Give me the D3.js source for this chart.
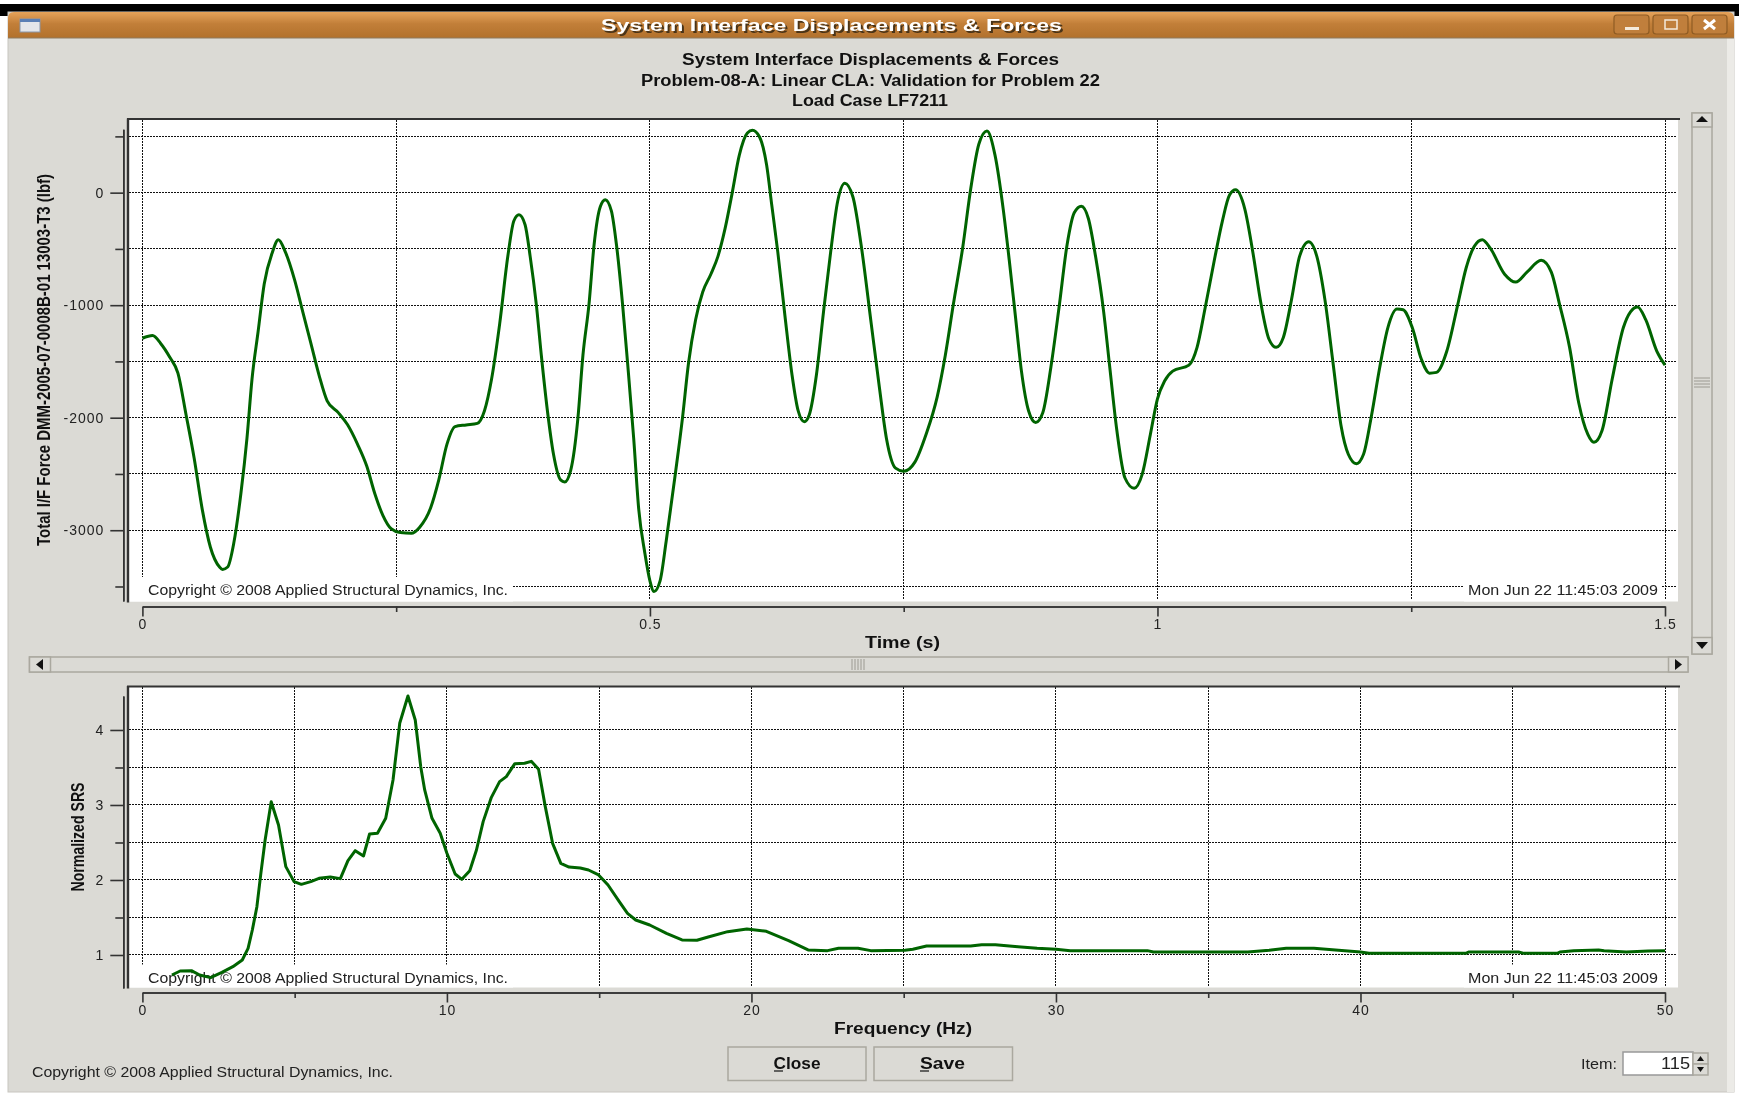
<!DOCTYPE html>
<html>
<head>
<meta charset="utf-8">
<title>System Interface Displacements & Forces</title>
<script src="https://cdn.jsdelivr.net/npm/d3@7"></script>
<style>
  html, body { margin: 0; background: #fff; overflow: hidden; }
  svg { display: block; filter: blur(0.35px); }
  text { font-family: "Liberation Sans", Arial, sans-serif; fill: #111; }
  .tick text { font-size: 14px; letter-spacing: 1px; fill: #222; }
  .axis path, .axis line { stroke: #333; stroke-width: 1.6; fill: none; }
  .grid line { stroke: #111; stroke-width: 1; stroke-dasharray: 2 1; shape-rendering: crispEdges; }
  .curve { fill: none; stroke: #006400; stroke-width: 3; stroke-linejoin: round; }
</style>
</head>
<body>
<svg id="chart" width="1739" height="1093"></svg>
<script>
// Time history
const timeS = [0, .010, .018, .027, .035, .043, .051, .059, .067, .076, .079, .084, .090, .097, .103, .108, .114, .120, .128, .134,
  .141, .150, .158, .166, .174, .182, .193, .202, .212, .221, .229, .237, .245, .254, .265, .273, .284, .292, .300, .308,
  .319, .330, .337, .344, .352, .360, .366, .371, .377, .382, .388, .393, .399, .405, .412, .416, .422, .429, .434, .440,
  .445, .451, .456, .462, .467, .473, .478, .484, .489, .495, .500, .504, .510, .516, .525, .532, .538, .545, .552, .560,
  .567, .574, .581, .588, .596, .601, .608, .615, .620, .626, .633, .640, .646, .652, .657, .664, .671, .678, .685, .692,
  .700, .708, .718, .726, .733, .742, .750, .761, .772, .783, .791, .799, .808, .816, .824, .832, .840, .848, .854, .860,
  .866, .873, .880, .887, .895, .903, .911, .918, .925, .932, .939, .947, .953, .960, .968, .977, .985, .993, 1.0, 1.007,
  1.015, 1.031, 1.039, 1.047, 1.056, 1.064, 1.071, 1.077, 1.086, 1.094, 1.102, 1.110, 1.117, 1.124, 1.132, 1.140, 1.149, 1.157, 1.165, 1.173,
  1.181, 1.188, 1.196, 1.203, 1.211, 1.219, 1.227, 1.236, 1.242, 1.251, 1.260, 1.268, 1.275, 1.285, 1.296, 1.304, 1.312, 1.320, 1.328, 1.342,
  1.353, 1.364, 1.378, 1.388, 1.396, 1.406, 1.415, 1.424, 1.430, 1.438, 1.448, 1.459, 1.466, 1.473, 1.481, 1.492, 1.500];
const forceLbf = [-1294, -1270, -1340, -1463, -1604, -1973, -2360, -2817, -3151, -3327, -3348, -3327, -3116, -2676, -2184, -1656, -1234, -812, -531, -418,
  -531, -777, -1059, -1340, -1621, -1850, -1955, -2061, -2237, -2430, -2676, -2870, -2986, -3021, -3028, -2975, -2800, -2553, -2237, -2079,
  -2064, -2050, -1938, -1656, -1164, -566, -250, -197, -285, -566, -988, -1445, -1938, -2325, -2553, -2571, -2465, -2008, -1445, -988,
  -461, -127, -63, -162, -461, -988, -1516, -2184, -2817, -3204, -3450, -3545, -3450, -3098, -2501, -2008, -1516, -1129, -883, -725,
  -566, -320, -4, 331, 530, 555, 495, 243, -109, -531, -1094, -1621, -1938, -2036, -1973, -1621, -1059, -531, -74, 84,
  -39, -461, -1164, -1727, -2184, -2448, -2476, -2395, -2149, -1815, -1445, -988, -496, 32, 430, 548, 331, -144, -601, -1094,
  -1586, -1938, -2043, -1955, -1551, -1023, -461, -179, -120, -232, -566, -1059, -1551, -2114, -2536, -2627, -2501, -2149, -1832, -1674,
  -1586, -1533, -1375, -1023, -601, -250, -21, 25, -144, -531, -988, -1305, -1375, -1287, -953, -566, -436, -566, -953, -1516,
  -2079, -2325, -2409, -2325, -1973, -1551, -1199, -1034, -1041, -1199, -1481, -1604, -1597, -1410, -988, -672, -478, -418, -496, -725,
  -795, -707, -601, -707, -988, -1375, -1867, -2149, -2219, -2114, -1656, -1199, -1059, -1016, -1129, -1410, -1533];

// Shock response spectrum
const freqHz = [.97, 1.24, 1.61, 1.88, 2.24, 2.61, 2.97, 3.28, 3.47, 3.61, 3.76, 3.89, 4.03, 4.23, 4.47, 4.71, 4.98, 5.22, 5.53, 5.80,
  6.17, 6.50, 6.75, 6.99, 7.26, 7.46, 7.72, 7.99, 8.23, 8.45, 8.72, 8.96, 9.14, 9.27, 9.51, 9.78, 10.0, 10.27, 10.49, 10.75,
  10.97, 11.19, 11.46, 11.73, 11.95, 12.23, 12.55, 12.77, 13.01, 13.23, 13.47, 13.74, 14.01, 14.38, 14.65, 14.98, 15.29, 15.66, 15.93, 16.2,
  16.66, 17.21, 17.72, 18.21, 18.58, 19.22, 19.85, 20.49, 21.22, 21.86, 22.5, 22.86, 23.5, 23.92, 25.04, 25.3, 25.75, 27.2, 27.56, 28.01,
  28.75, 29.38, 30, 30.47, 33.0, 33.2, 36.3, 37.0, 37.56, 38.47, 39.28, 40.0, 40.28, 43.46, 43.55, 45.19, 45.37, 46.46, 46.55, 47.0,
  47.82, 48.0, 48.73, 49.45, 50];
const srs = [.733, .787, .791, .733, .698, .769, .844, .933, 1.089, 1.333, 1.644, 2.089, 2.533, 3.044, 2.733, 2.178, 1.978, 1.942, 1.978, 2.022,
  2.04, 2.018, 2.258, 2.391, 2.32, 2.613, 2.622, 2.822, 3.333, 4.089, 4.453, 4.133, 3.511, 3.2, 2.822, 2.622, 2.356, 2.08, 2.009, 2.124,
  2.4, 2.778, 3.102, 3.311, 3.378, 3.551, 3.556, 3.582, 3.476, 2.978, 2.489, 2.222, 2.173, 2.16, 2.133, 2.067, 1.933, 1.711, 1.556, 1.467,
  1.4, 1.289, 1.2, 1.196, 1.24, 1.311, 1.347, 1.316, 1.191, 1.067, 1.058, 1.089, 1.089, 1.058, 1.062, 1.076, 1.12, 1.12, 1.138, 1.138,
  1.111, 1.089, 1.076, 1.058, 1.058, 1.04, 1.04, 1.062, 1.089, 1.089, 1.062, 1.04, 1.022, 1.022, 1.04, 1.04, 1.022, 1.022, 1.04, 1.058,
  1.067, 1.058, 1.04, 1.053, 1.058];

// Ticks
const timeMajor = [0, 0.5, 1, 1.5];
const timeMinor = [0.25, 0.75, 1.25];
const forceMajor = [0, -1000, -2000, -3000];
const forceMinor = [500, -500, -1500, -2500, -3500];
const freqMajor = [0, 10, 20, 30, 40, 50];
const freqMinor = [5, 15, 25, 35, 45];
const srsMajor = [1, 2, 3, 4];
const srsMinor = [1.5, 2.5, 3.5];

// Text
const windowTitle = "System Interface Displacements & Forces";
const heading = ["System Interface Displacements & Forces", "Problem-08-A: Linear CLA: Validation for Problem 22", "Load Case LF7211"];
const copyright = "Copyright \u00a9 2008 Applied Structural Dynamics, Inc.";
const stamp = "Mon Jun 22 11:45:03 2009";

const svg = d3.select("#chart");
const BG = "#dbdad5";

// Text squeezed to the width it has in the screenshot
function label(parent, str, x, y, width, size, opts = {}) {
  const t = parent.append("text")
    .attr("x", x).attr("y", y)
    .attr("text-anchor", opts.anchor || "middle")
    .attr("dominant-baseline", "central")
    .attr("font-size", size)
    .attr("font-weight", opts.bold ? "bold" : "normal")
    .attr("textLength", width)
    .attr("lengthAdjust", "spacingAndGlyphs")
    .text(str);
  if (opts.fill) t.style("fill", opts.fill);
  if (opts.rotate) t.attr("transform", `rotate(-90,${x},${y})`);
  return t;
}

function bevel(x, y, w, h, fill = BG) {
  svg.append("rect").attr("x", x).attr("y", y).attr("width", w).attr("height", h)
    .attr("fill", fill).attr("stroke", "#aaa89f").attr("stroke-width", 1.5);
}

// Window frame
const defs = svg.append("defs");
const grad = defs.append("linearGradient").attr("id", "titlebar").attr("x1", 0).attr("x2", 0).attr("y1", 0).attr("y2", 1);
grad.append("stop").attr("offset", 0).attr("stop-color", "#e6a35a");
grad.append("stop").attr("offset", 0.45).attr("stop-color", "#c27f39");
grad.append("stop").attr("offset", 1).attr("stop-color", "#b2712c");

svg.append("rect").attr("x", 0).attr("y", 4).attr("width", 1739).attr("height", 12).attr("fill", "#000");
svg.append("rect").attr("x", 8).attr("y", 12).attr("width", 1726).attr("height", 1080).attr("fill", BG).attr("stroke", "#c8c6c0");
svg.append("rect").attr("x", 1727).attr("y", 38).attr("width", 7).attr("height", 1054).attr("fill", "#ecebe7");
svg.append("path").attr("fill", "url(#titlebar)")
  .attr("d", "M8,38V18Q8,12,14,12H1728Q1734,12,1734,18V38Z");
svg.append("line").attr("x1", 8).attr("x2", 1734).attr("y1", 38).attr("y2", 38).attr("stroke", "#8f7a5f");

svg.append("rect").attr("x", 20).attr("y", 19).attr("width", 20).attr("height", 13).attr("fill", "#e4e6ea").attr("stroke", "#8a96a8");
svg.append("rect").attr("x", 20).attr("y", 19).attr("width", 20).attr("height", 3).attr("fill", "#5a7fb5");

label(svg, windowTitle, 832.5, 26, 461, 17, { bold: true, fill: "#4a3418" }).attr("transform", "translate(1,1)");
label(svg, windowTitle, 831.5, 25, 461, 17, { bold: true, fill: "#fff" });

[[1614, 35], [1653, 35], [1692, 35]].forEach(([x, w]) => {
  svg.append("rect").attr("x", x).attr("y", 15).attr("width", w).attr("height", 19).attr("rx", 3)
    .attr("fill", "#c07f3c").attr("stroke", "#8f5c24").attr("stroke-width", 1.2);
});
svg.append("rect").attr("x", 1625).attr("y", 27).attr("width", 14).attr("height", 3).attr("fill", "#f4eadc");
svg.append("rect").attr("x", 1665).attr("y", 20).attr("width", 12).attr("height", 9).attr("fill", "none").attr("stroke", "#f4eadc").attr("stroke-width", 1.5);
svg.append("path").attr("d", "M1704,20L1715,29M1715,20L1704,29").attr("stroke", "#fff").attr("stroke-width", 3);

label(svg, heading[0], 870.5, 59.5, 377, 16, { bold: true });
label(svg, heading[1], 870.5, 80, 459, 16, { bold: true });
label(svg, heading[2], 870, 100.5, 156, 16, { bold: true });

// One plot panel with grid, axes and its curve
function drawPlot(cfg) {
  const x = d3.scaleLinear().domain(cfg.xDomain).range([142.4, 1665]);
  const y = d3.scaleLinear().domain(cfg.yDomain).range([cfg.axisBottom, cfg.axisTop]);
  const g = svg.append("g");

  g.append("rect").attr("x", 128).attr("y", cfg.top).attr("width", 1550).attr("height", cfg.bottom - cfg.top).attr("fill", "#fff");

  const grid = g.append("g").attr("class", "grid");
  grid.selectAll(".h").data(cfg.yMajor.concat(cfg.yMinor)).enter().append("line")
    .attr("x1", 129).attr("x2", 1676).attr("y1", (d) => y(d)).attr("y2", (d) => y(d));
  grid.selectAll(".v").data(cfg.xMajor.concat(cfg.xMinor)).enter().append("line")
    .attr("x1", (d) => x(d)).attr("x2", (d) => x(d)).attr("y1", cfg.top).attr("y2", cfg.bottom - 2);

  // Stamps knock the grid out behind them
  const stampTop = cfg.stampY - 13;
  g.append("rect").attr("x", 129).attr("y", stampTop).attr("width", 384).attr("height", cfg.bottom - stampTop).attr("fill", "#fff");
  g.append("rect").attr("x", 1464).attr("y", stampTop).attr("width", 197).attr("height", cfg.bottom - stampTop).attr("fill", "#fff");
  label(g, copyright, 148, cfg.stampY, 360, 14.5, { anchor: "start", fill: "#222" });
  label(g, stamp, 1468, cfg.stampY, 190, 14.5, { anchor: "start", fill: "#222" });

  g.append("path").attr("class", "curve")
    .attr("d", d3.line().x((d, i) => x(cfg.xs[i])).y((d) => y(d)).curve(cfg.curve)(cfg.ys));

  g.append("line").attr("x1", 128).attr("x2", 128).attr("y1", cfg.top - 1).attr("y2", cfg.bottom + 1).attr("stroke", "#333").attr("stroke-width", 2.4);
  g.append("line").attr("x1", 127).attr("x2", 1680).attr("y1", cfg.top - 0.5).attr("y2", cfg.top - 0.5).attr("stroke", "#333").attr("stroke-width", 2);

  // Axes: labelled major ticks, then short minor ticks
  const xMaj = d3.axisBottom(x).tickValues(cfg.xMajor).tickSize(cfg.xTick).tickSizeOuter(0).tickFormat((d) => String(d));
  const xMin = d3.axisBottom(x).tickValues(cfg.xMinor).tickSize(cfg.xTick - 4.5).tickSizeOuter(0).tickFormat("");
  const yMaj = d3.axisLeft(y).tickValues(cfg.yMajor).tickSize(13).tickSizeOuter(0).tickFormat((d) => String(d));
  const yMin = d3.axisLeft(y).tickValues(cfg.yMinor).tickSize(8).tickSizeOuter(0).tickFormat("");

  const xa = g.append("g").attr("class", "axis").attr("transform", `translate(0,${cfg.xAxisY})`);
  xa.call(xMaj); xa.append("g").call(xMin);
  xa.selectAll("text").attr("y", cfg.xLabelDy).attr("dy", "0.32em");
  const ya = g.append("g").attr("class", "axis").attr("transform", "translate(123.3,0)");
  ya.call(yMaj); ya.append("g").call(yMin);
  ya.selectAll("text").attr("x", -19);
  svg.selectAll(".axis").attr("fill", "none");

  label(g, cfg.xTitle, cfg.xTitleX, cfg.xTitleY, cfg.xTitleW, 16, { bold: true });
  label(g, cfg.yTitle, cfg.yTitleX, cfg.yTitleY, cfg.yTitleW, 18, { bold: true, rotate: true });
}

drawPlot({
  xs: timeS, ys: forceLbf, curve: d3.curveMonotoneX,
  xDomain: [0, 1.5], yDomain: [-3629, 563],
  xMajor: timeMajor, xMinor: timeMinor, yMajor: forceMajor, yMinor: forceMinor,
  top: 119.5, bottom: 601.5, axisTop: 129.3, axisBottom: 601,
  xAxisY: 606.5, xTick: 10, xLabelDy: 18.5, stampY: 590,
  xTitle: "Time (s)", xTitleX: 902.5, xTitleY: 642.5, xTitleW: 75,
  yTitle: "Total I/F Force DMM-2005-07-0008B-01 13003-T3 (lbf)", yTitleX: 44, yTitleY: 360, yTitleW: 372
});

drawPlot({
  xs: freqHz, ys: srs, curve: d3.curveLinear,
  xDomain: [0, 50], yDomain: [0.56, 4.453],
  xMajor: freqMajor, xMinor: freqMinor, yMajor: srsMajor, yMinor: srsMinor,
  top: 687, bottom: 987.5, axisTop: 696, axisBottom: 988,
  xAxisY: 992.5, xTick: 10, xLabelDy: 18.5, stampY: 977.5,
  xTitle: "Frequency (Hz)", xTitleX: 903, xTitleY: 1028.5, xTitleW: 138,
  yTitle: "Normalized SRS", yTitleX: 77.5, yTitleY: 837, yTitleW: 109
});

// Scrollbars
bevel(1692, 113, 20, 541);
bevel(1692, 113, 20, 14);
bevel(1692, 637.5, 20, 16.5);
svg.append("path").attr("d", "M1696,122L1702,116L1708,122Z").attr("fill", "#111");
svg.append("path").attr("d", "M1696,642L1708,642L1702,649Z").attr("fill", "#111");
[378, 381, 384, 387].forEach((yy) => svg.append("line").attr("x1", 1694).attr("x2", 1710).attr("y1", yy).attr("y2", yy).attr("stroke", "#9c9a92"));

bevel(29.5, 657, 1658.5, 15);
bevel(29.5, 657, 21, 15);
bevel(1668.5, 657, 19.5, 15);
svg.append("path").attr("d", "M36,664.5L43,659L43,670Z").attr("fill", "#111");
svg.append("path").attr("d", "M1682,664.5L1675,659L1675,670Z").attr("fill", "#111");
[852, 855, 858, 861, 864].forEach((xx) => svg.append("line").attr("x1", xx).attr("x2", xx).attr("y1", 659).attr("y2", 670).attr("stroke", "#9c9a92"));

// Bottom controls
bevel(728, 1047, 138, 33.5);
bevel(874, 1047, 138.5, 33.5);
label(svg, "Close", 797, 1063, 47, 16.5, { bold: true });
label(svg, "Save", 942.5, 1063, 45, 16.5, { bold: true });
svg.append("line").attr("x1", 774).attr("x2", 783).attr("y1", 1071).attr("y2", 1071).attr("stroke", "#111").attr("stroke-width", 1.2);
svg.append("line").attr("x1", 920).attr("x2", 929).attr("y1", 1071).attr("y2", 1071).attr("stroke", "#111").attr("stroke-width", 1.2);

label(svg, copyright, 32, 1071.5, 361, 14.5, { anchor: "start", fill: "#222" });
label(svg, "Item:", 1581, 1063, 36, 15, { anchor: "start", fill: "#222" });
svg.append("rect").attr("x", 1623).attr("y", 1052).attr("width", 70).attr("height", 23).attr("fill", "#fff").attr("stroke", "#999").attr("stroke-width", 1.5);
label(svg, "115", 1690, 1063, 29, 16, { anchor: "end", fill: "#222" });
bevel(1693, 1053, 15, 11);
bevel(1693, 1064, 15, 11);
svg.append("path").attr("d", "M1697,1061L1700.5,1056L1704,1061Z").attr("fill", "#111");
svg.append("path").attr("d", "M1697,1067L1704,1067L1700.5,1072Z").attr("fill", "#111");
</script>
</body>
</html>
